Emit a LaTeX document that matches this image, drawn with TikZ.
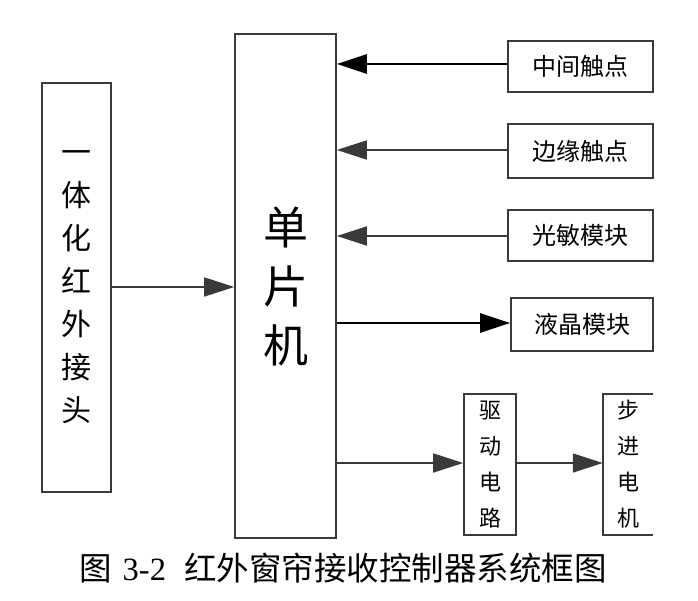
\documentclass[tikz,border=0pt]{standalone}
\usepackage{fontspec}
\usetikzlibrary{arrows.meta}
\newfontfamily\cjk{Noto Sans CJK SC}
\newfontfamily\numfont{Liberation Serif}
\definecolor{edge}{HTML}{3A3A3A}
\begin{document}
\begin{tikzpicture}[x=1pt,y=-1pt,
  box/.style={draw=edge,line width=1.6pt,inner sep=0pt,align=center,text=black},
  arr/.style={draw=edge,line width=1.6pt,-{Triangle[length=30pt,width=19pt]}},
  thickarr/.style={draw=black,line width=2.8pt,-{Triangle[length=30pt,width=19pt]}},
  lab/.style={font=\cjk\fontsize{24}{24}\selectfont}
]
\useasboundingbox (0,0) rectangle (698,601);
\fill[white] (0,0) rectangle (698,601);
% left IR box
\node[box,minimum width=69pt,minimum height=409pt,font=\cjk\fontsize{30}{43}\selectfont] (ir) at (76.5,287.5) {一\\体\\化\\红\\外\\接\\头};
% MCU
\node[box,minimum width=101pt,minimum height=504pt,font=\cjk\fontsize{45}{59}\selectfont] (mcu) at (285.5,286) {单\\片\\机};
% right boxes
\node[box,lab,minimum width=145pt,minimum height=51pt] (zj) at (580.5,66.5) {中间触点};
\node[box,lab,minimum width=145pt,minimum height=54pt] (by) at (580.5,151) {边缘触点};
\node[box,lab,minimum width=145pt,minimum height=51pt] (gm) at (580.5,235.5) {光敏模块};
\node[box,lab,minimum width=142pt,minimum height=53pt] (lcd) at (582,324.5) {液晶模块};
\node[box,minimum width=52pt,minimum height=141pt,font=\cjk\fontsize{22}{36}\selectfont] (drv) at (490,464.5) {驱\\动\\电\\路};
\node[inner sep=0pt,align=center,minimum width=50pt,minimum height=141pt,font=\cjk\fontsize{22}{36}\selectfont] (motor) at (628,464.5) {步\\进\\电\\机};
\draw[edge,line width=1.6pt] (motor.north east) -- (motor.north west) -- (motor.south west) -- (motor.south east);
% connectors
\draw[arr] (ir.east |- 0,287) -- (mcu.west |- 0,287);
\draw[thickarr] (zj.west |- 0,64) -- (mcu.east |- 0,64);
\draw[arr] (by.west |- 0,150) -- (mcu.east |- 0,150);
\draw[arr] (gm.west |- 0,236) -- (mcu.east |- 0,236);
\draw[thickarr] (mcu.east |- 0,323) -- (lcd.west |- 0,323);
\draw[arr] (mcu.east |- 0,463) -- (drv.west |- 0,463);
\draw[arr] (drv.east |- 0,463) -- (motor.west |- 0,463);
% caption
\node[font=\cjk\fontsize{32.5}{32.5}\selectfont,inner sep=0pt,anchor=west] (cap) at (79,568) {图\hspace{11pt}{\numfont 3-2}\hspace{18pt}红外窗帘接收控制器系统框图};
\end{tikzpicture}
\end{document}
